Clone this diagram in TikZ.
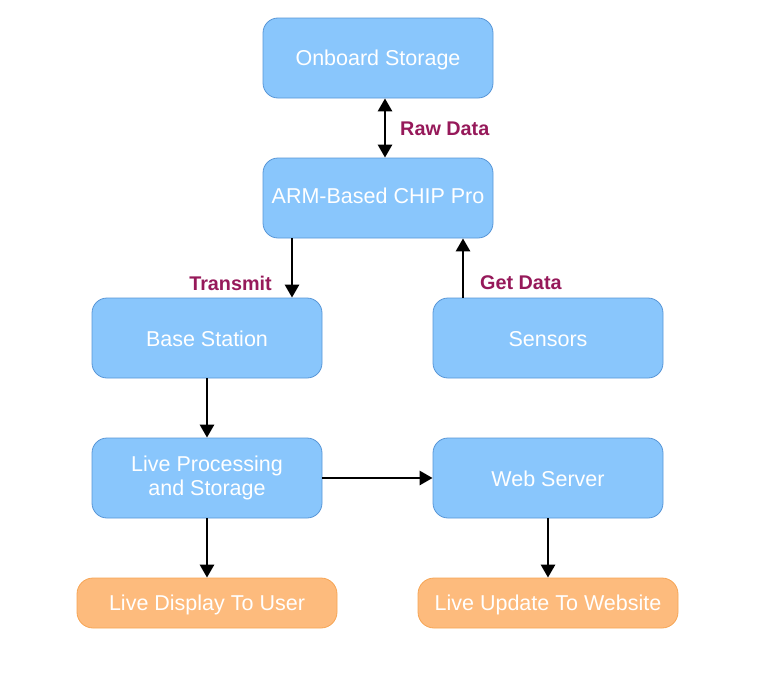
\documentclass[tikz,border=0pt]{standalone}
\usepackage{fontspec}
\setmainfont{Liberation Sans}
\usetikzlibrary{arrows.meta}
\definecolor{bfill}{RGB}{137,198,252}
\definecolor{bdraw}{RGB}{88,150,215}
\definecolor{ofill}{RGB}{253,187,125}
\definecolor{odraw}{RGB}{246,165,85}
\definecolor{lblc}{RGB}{150,25,90}
\newcommand{\mvtxt}[2]{\raisebox{#1}[\height][\depth]{#2}}
\tikzset{
  bluebox/.style={draw=bdraw, fill=bfill, line width=0.8pt, rounded corners=15pt, minimum width=230pt, minimum height=80pt, text=white, font=\fontsize{21.5}{24}\selectfont, align=center, inner sep=0pt},
  orangebox/.style={draw=odraw, fill=ofill, line width=0.8pt, rounded corners=16pt, minimum width=260pt, minimum height=50pt, text=white, font=\fontsize{21.5}{24}\selectfont, inner sep=0pt},
  arr/.style={line width=2.8pt, -{Triangle[length=13pt,width=14pt]}},
  darr/.style={line width=2.8pt, {Triangle[length=13pt,width=14pt]}-{Triangle[length=13pt,width=14pt]}},
  lbl/.style={text=lblc, font=\bfseries\fontsize{19.8}{22}\selectfont, inner sep=0pt}
}
\begin{document}
\begin{tikzpicture}[x=1pt,y=-1pt]
\useasboundingbox (0,0) rectangle (776,680);
\node[bluebox] (store) at (378,58) {\mvtxt{-2pt}{Onboard Storage}};
\node[bluebox] (arm) at (378,198) {\mvtxt{2pt}{ARM-Based CHIP Pro}};
\node[bluebox] (base) at (207,338) {\mvtxt{-1pt}{Base Station}};
\node[bluebox] (sens) at (548,338) {\mvtxt{-1pt}{Sensors}};
\node[bluebox] (proc) at (207,478) {Live Processing\\and Storage};
\node[bluebox] (web) at (548,478) {\mvtxt{-1pt}{Web Server}};
\node[orangebox] (disp) at (207,603) {\mvtxt{-2pt}{Live Display To User}};
\node[orangebox] (upd) at (548,603) {\mvtxt{-2pt}{Live Update To Website}};

\draw[darr] (store.south -| 385,0) -- (arm.north -| 385,0);
\node[lbl, anchor=west] (lraw) at (400,129) {Raw Data};
\draw[arr] (arm.south -| 292,0) -- (base.north -| 292,0);
\node[lbl, anchor=east] (ltx) at (272,283) {Transmit};
\draw[arr] (sens.north -| 463,0) -- (arm.south -| 463,0);
\node[lbl, anchor=west] (lget) at (480,283) {Get Data};
\draw[arr] (base) -- (proc);
\draw[arr] (proc) -- (web);
\draw[arr] (proc) -- (disp);
\draw[arr] (web) -- (upd);
\end{tikzpicture}
\end{document}
